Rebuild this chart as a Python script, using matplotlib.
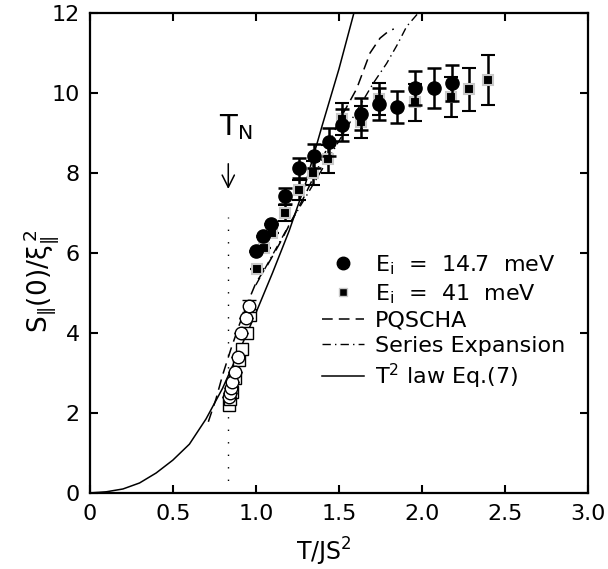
import matplotlib
matplotlib.use("Agg")
import matplotlib.pyplot as plt
from matplotlib.lines import Line2D

plt.rcParams["font.family"] = ["DejaVu Sans"]
plt.rcParams["mathtext.default"] = "regular"

# E_i = 14.7 meV (filled circles)
t_circ = [1.00, 1.045, 1.09, 1.175, 1.26, 1.35, 1.44, 1.52, 1.63, 1.74, 1.85, 1.96, 2.07, 2.18]
s_circ = [6.06, 6.43, 6.72, 7.43, 8.12, 8.43, 8.78, 9.20, 9.47, 9.72, 9.64, 10.12, 10.12, 10.26]
e_circ = [0.0, 0.0, 0.0, 0.20, 0.25, 0.30, 0.35, 0.40, 0.40, 0.40, 0.40, 0.42, 0.50, 0.45]

# E_i = 41 meV (filled squares)
t_sq = [1.005, 1.05, 1.10, 1.175, 1.26, 1.345, 1.436, 1.52, 1.63, 1.74, 1.96, 2.176, 2.284, 2.395]
s_sq = [5.60, 6.12, 6.49, 6.99, 7.58, 7.99, 8.35, 9.35, 9.28, 9.85, 9.77, 9.91, 10.09, 10.33]
e_sq = [0.0, 0.0, 0.0, 0.20, 0.25, 0.30, 0.35, 0.40, 0.40, 0.40, 0.46, 0.50, 0.53, 0.63]

# open symbols near T_N
t_ocirc = [0.84, 0.844, 0.85, 0.858, 0.874, 0.894, 0.908, 0.939, 0.958]
s_ocirc = [2.39, 2.49, 2.62, 2.78, 3.03, 3.39, 4.00, 4.37, 4.67]
e_ocirc = [0, 0, 0, 0, 0, 0, 0, 0, 0.15]
t_osq = [0.84, 0.844, 0.854, 0.874, 0.90, 0.915, 0.948, 0.965]
s_osq = [2.20, 2.34, 2.53, 2.87, 3.33, 3.60, 4.00, 4.45]

# theory curves
t_pq = [0.714, 0.76, 0.80, 0.85, 0.90, 0.95, 1.00, 1.07, 1.145, 1.22, 1.29, 1.40, 1.50, 1.606, 1.687, 1.747, 1.80, 1.83]
s_pq = [1.78, 2.35, 2.95, 3.60, 4.20, 4.75, 5.25, 5.70, 6.25, 6.85, 7.40, 8.35, 9.30, 10.10, 11.00, 11.37, 11.55, 11.60]

t_se = [1.00, 1.10, 1.20, 1.30, 1.40, 1.50, 1.60, 1.706, 1.787, 1.85, 1.907, 1.967, 2.00]
s_se = [5.20, 5.95, 6.70, 7.40, 8.10, 8.80, 9.50, 10.24, 10.74, 11.20, 11.66, 11.95, 12.10]

t_law = [0, 0.1, 0.2, 0.3, 0.4, 0.5, 0.6, 0.7, 0.8, 0.9, 1.0, 1.1, 1.2, 1.3, 1.4, 1.5, 1.59]
s_law = [0, 0.03, 0.10, 0.25, 0.50, 0.82, 1.22, 1.85, 2.62, 3.55, 4.50, 5.50, 6.55, 7.75, 9.20, 10.60, 12.0]

t_neel = 0.834

fig = plt.figure(figsize=(6.08, 5.69), dpi=100)
ax = fig.add_axes([0.1475, 0.1336, 0.820, 0.8436])

ax.plot(t_law, s_law, color="black", lw=1.1)
ax.plot(t_pq, s_pq, color="black", lw=1.1, linestyle=(0, (7, 4)))
ax.plot(t_se, s_se, color="black", lw=1.0, linestyle=(0, (6, 3, 1, 3)))

ax.plot([t_neel, t_neel], [0, 6.9], color="black", lw=1.0, linestyle=(0, (1, 8)))
ax.annotate("", xy=(t_neel, 7.53), xytext=(t_neel, 8.3),
            arrowprops=dict(arrowstyle="->", color="black", lw=1.1, mutation_scale=22))
ax.text(t_neel + 0.045, 8.95, "T$_\\mathregular{N}$", fontsize=21, ha="center", va="baseline")

err_kw = dict(ecolor="black", elinewidth=1.8, capsize=5, capthick=1.8, linestyle="none")
ax.errorbar(t_osq, s_osq, fmt="s", ms=9, mfc="white", mec="black", mew=1.0, zorder=3, **err_kw)
ax.errorbar(t_ocirc, s_ocirc, yerr=e_ocirc, fmt="o", ms=9, mfc="white", mec="black", mew=1.0, zorder=4, **err_kw)
ax.errorbar(t_sq, s_sq, yerr=e_sq, fmt="s", ms=7.5, mfc="black", mec="#c8c8c8", mew=1.5, zorder=5, **err_kw)
ax.errorbar(t_circ, s_circ, yerr=e_circ, fmt="o", ms=9.5, mfc="black", mec="black", zorder=6, **err_kw)

handles = [
    Line2D([], [], marker="o", color="black", ms=9, linestyle="none"),
    Line2D([], [], marker="s", color="black", ms=6, mec="#c8c8c8", linestyle="none"),
    Line2D([], [], color="black", lw=1.1, linestyle=(0, (7, 4))),
    Line2D([], [], color="black", lw=1.0, linestyle=(0, (6, 3, 1, 3))),
    Line2D([], [], color="black", lw=1.1),
]
labels = [
    "E$_\\mathregular{i}$  =  14.7  meV",
    "E$_\\mathregular{i}$  =  41  meV",
    "PQSCHA",
    "Series Expansion",
    "T$^2$ law Eq.(7)",
]
ax.legend(handles, labels, loc="upper left", bbox_to_anchor=(0.465, 0.50), frameon=False,
          fontsize=16, handlelength=1.9, handletextpad=0.5, labelspacing=0.24,
          borderpad=0, borderaxespad=0)

ax.set_xlim(0, 3.0)
ax.set_ylim(0, 12)
ax.set_xticks([0, 0.5, 1.0, 1.5, 2.0, 2.5, 3.0])
ax.set_xticklabels(["0", "0.5", "1.0", "1.5", "2.0", "2.5", "3.0"])
ax.set_yticks([0, 2, 4, 6, 8, 10, 12])
ax.tick_params(direction="in", length=6, width=1.5, top=True, right=True, labelsize=16)
ax.tick_params(axis="x", pad=8)
ax.tick_params(axis="y", pad=7)
for sp in ax.spines.values():
    sp.set_linewidth(1.6)

ax.set_xlabel("T/JS$^2$", fontsize=17)
ax.xaxis.set_label_coords(0.47, -0.09)
ax.set_ylabel("S$_\\Vert$(0)/ξ$_\\Vert^{\\,2}$", fontsize=19)
ax.yaxis.set_label_coords(-0.058, 0.44)

fig.savefig("out.png", dpi=100)
